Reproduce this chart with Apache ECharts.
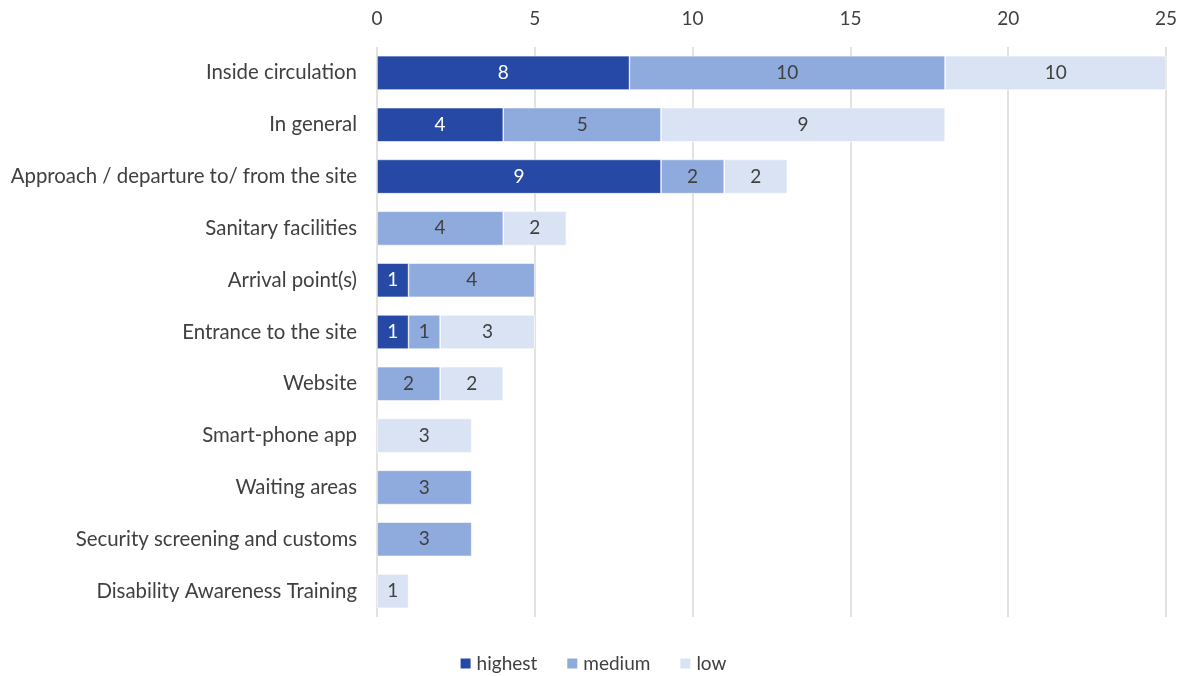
<!DOCTYPE html>
<html>
<head>
<meta charset="utf-8">
<script src="https://cdn.jsdelivr.net/npm/echarts@6/dist/echarts.min.js"></script>
<style>
  html, body { margin: 0; padding: 0; background: #fff; }
  #chart { width: 1185px; height: 676px; }
</style>
</head>
<body>
<div id="chart"></div>
<script>
// Issues by area, counted per priority level
const categories = [
  'Inside circulation',
  'In general',
  'Approach / departure to/ from the site',
  'Sanitary facilities',
  'Arrival point(s)',
  'Entrance to the site',
  'Website',
  'Smart-phone app',
  'Waiting areas',
  'Security screening and customs',
  'Disability Awareness Training'
];
const highest = [8, 4, 9, null, 1, 1, null, null, null, null, null];
const medium  = [10, 5, 2, 4, 4, 1, 2, null, 3, 3, null];
const low     = [10, 9, 2, 2, null, 3, 2, 3, null, null, 1];
const xTicks  = [0, 5, 10, 15, 20, 25];

const FONT = 'Lato, "Open Sans", sans-serif';

function bar(name, data, color, labelColor) {
  return {
    name: name,
    type: 'bar',
    stack: 'total',
    data: data,
    barWidth: '66%',
    itemStyle: { color: color, borderColor: '#ffffff', borderWidth: 0.6 },
    label: {
      show: true,
      position: 'inside',
      color: labelColor,
      fontFamily: FONT,
      fontSize: 19
    }
  };
}

const chart = echarts.init(document.getElementById('chart'), null, { renderer: 'canvas' });
chart.setOption({
  animation: false,
  grid: { left: 377, right: 19, top: 47, bottom: 59 },
  legend: {
    top: 649,
    left: 'center',
    itemWidth: 12,
    itemHeight: 12,
    itemGap: 28,
    icon: 'rect',
    textStyle: { color: '#404040', fontFamily: FONT, fontSize: 19 },
    data: ['highest', 'medium', 'low']
  },
  xAxis: {
    type: 'value',
    position: 'top',
    min: xTicks[0],
    max: xTicks[xTicks.length - 1],
    interval: 5,
    axisLine: { show: false },
    axisTick: { show: false },
    axisLabel: { color: '#404040', fontFamily: FONT, fontSize: 19, margin: 19 },
    splitLine: { lineStyle: { color: '#d9d9d9', width: 1.5 } }
  },
  yAxis: {
    type: 'category',
    inverse: true,
    data: categories,
    axisLine: { show: false },
    axisTick: { show: false },
    axisLabel: { color: '#404040', fontFamily: FONT, fontSize: 20.4, margin: 20 }
  },
  series: [
    bar('highest', highest, '#2549a4', '#ffffff'),
    bar('medium', medium, '#8faadc', '#404040'),
    bar('low', low, '#dae3f3', '#404040')
  ]
});
</script>
</body>
</html>
